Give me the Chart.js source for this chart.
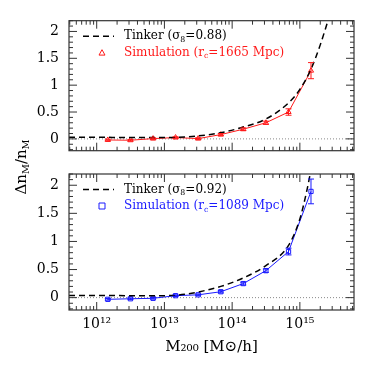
<!DOCTYPE html>
<html>
<head>
<meta charset="utf-8">
<script src="https://cdn.jsdelivr.net/npm/chart.js@4.4.1/dist/chart.umd.min.js"></script>
<style>
  html, body { margin: 0; padding: 0; background: #fff; }
  #wrap { position: relative; width: 374px; height: 374px; }
  canvas { position: absolute; left: 0; top: 0; }
</style>
</head>
<body>
<div id="wrap">
  <canvas id="top" width="374" height="374"></canvas>
  <canvas id="bottom" width="374" height="374"></canvas>
</div>
<script>
// halo mass bins (M_sun/h)
const massBins = [1.46e12, 3.15e12, 6.8e12, 1.46e13, 3.15e13, 6.8e13, 1.46e14, 3.15e14, 6.8e14, 1.46e15]

// top panel: simulation r_c = 1665 Mpc vs Tinker sigma8 = 0.88
const simTop = [-0.02, -0.025, 0.005, 0.025, 0.005, 0.08, 0.18, 0.3, 0.5, 1.27]
const errTop = [0.015, 0.015, 0.015, 0.015, 0.015, 0.02, 0.025, 0.03, 0.06, 0.15]
const tinkerTopM = [3.9e11, 1e12, 3e12, 1e13, 2e13, 3.15e13, 6.8e13, 1.46e14, 3.15e14, 6.8e14, 1e15, 1.46e15, 2e15, 2.6e15]
const tinkerTopV = [0.03, 0.03, 0.025, 0.025, 0.035, 0.055, 0.115, 0.22, 0.37, 0.67, 0.92, 1.3, 1.75, 2.2]

// bottom panel: simulation r_c = 1089 Mpc vs Tinker sigma8 = 0.92
const simBot = [-0.03, -0.02, -0.012, 0.035, 0.05, 0.105, 0.25, 0.48, 0.82, 1.89]
const errBot = [0.015, 0.015, 0.015, 0.015, 0.015, 0.02, 0.025, 0.03, 0.06, 0.22]
const tinkerBotM = [3.9e11, 1e12, 3e12, 1e13, 2e13, 3.15e13, 6.8e13, 1.46e14, 3.15e14, 6.8e14, 1e15, 1.26e15, 1.42e15]
const tinkerBotV = [0.04, 0.04, 0.035, 0.035, 0.06, 0.1, 0.2, 0.35, 0.57, 0.93, 1.4, 1.89, 2.2]

const xTicks = [1e12, 1e13, 1e14, 1e15]
const xTickLabels = ['10¹²', '10¹³', '10¹⁴', '10¹⁵']
const yTicks = [0, 0.5, 1, 1.5, 2]
const yTickLabels = ['0', '0.5', '1', '1.5', '2']

const X_MIN = 3.9e11, X_MAX = 6.3e15
const Y_MIN = -0.22, Y_MAX = 2.2
const FONT = "'DejaVu Serif', serif"
const RED = '#ff1a1a'
const BLUE = '#1a1aff'

// frame, inward ticks and zero line
const framePlugin = {
  id: 'frame',
  beforeDatasetsDraw(chart) {
    const { ctx, chartArea: a, scales } = chart
    const y0 = scales.y.getPixelForValue(0)
    ctx.save()
    ctx.strokeStyle = '#888'
    ctx.lineWidth = 1
    ctx.setLineDash([1, 2])
    ctx.beginPath()
    ctx.moveTo(a.left, y0)
    ctx.lineTo(a.right, y0)
    ctx.stroke()
    ctx.restore()
  },
  afterDraw(chart) {
    const { ctx, chartArea: a, scales } = chart
    ctx.save()
    ctx.strokeStyle = '#333'
    ctx.lineWidth = 1.2
    ctx.strokeRect(a.left, a.top, a.right - a.left, a.bottom - a.top)
    ctx.lineWidth = 1
    ctx.beginPath()
    for (let d = 11; d <= 15; d++) {
      for (let k = 1; k <= 9; k++) {
        const v = k * Math.pow(10, d)
        if (v < X_MIN || v > X_MAX) continue
        const px = scales.x.getPixelForValue(v)
        const len = k === 1 ? 8 : 4
        ctx.moveTo(px, a.bottom); ctx.lineTo(px, a.bottom - len)
        ctx.moveTo(px, a.top); ctx.lineTo(px, a.top + len)
      }
    }
    for (let i = -2; i <= 22; i++) {
      const py = scales.y.getPixelForValue(i / 10)
      const len = i % 5 === 0 ? 8 : 4
      ctx.moveTo(a.left, py); ctx.lineTo(a.left + len, py)
      ctx.moveTo(a.right, py); ctx.lineTo(a.right - len, py)
    }
    ctx.stroke()
    ctx.restore()
  },
}

// vertical error bars from dataset.errors
const errorPlugin = {
  id: 'errors',
  afterDatasetsDraw(chart) {
    const { ctx, scales } = chart
    chart.data.datasets.forEach((ds) => {
      if (!ds.errors) return
      ctx.save()
      ctx.strokeStyle = ds.borderColor
      ctx.lineWidth = 1
      ctx.beginPath()
      ds.data.forEach((p, i) => {
        const px = scales.x.getPixelForValue(p.x)
        const hi = scales.y.getPixelForValue(p.y + ds.errors[i])
        const lo = scales.y.getPixelForValue(p.y - ds.errors[i])
        ctx.moveTo(px, hi); ctx.lineTo(px, lo)
        ctx.moveTo(px - 3, hi); ctx.lineTo(px + 3, hi)
        ctx.moveTo(px - 3, lo); ctx.lineTo(px + 3, lo)
      })
      ctx.stroke()
      ctx.restore()
    })
  },
}

// draw a run of [text, isSub] parts, returns end x
function drawParts(ctx, parts, x, y, size) {
  parts.forEach(([t, sub]) => {
    ctx.font = (sub ? size * 0.65 : size) + 'px ' + FONT
    ctx.fillText(t, x, sub ? y + size * 0.3 : y)
    x += ctx.measureText(t).width
  })
  return x
}

const legendPlugin = {
  id: 'panelLegend',
  afterDraw(chart, args, opts) {
    const { ctx, chartArea: a } = chart
    const y1 = a.top + 15.5
    const y2 = a.top + 32
    ctx.save()
    ctx.strokeStyle = '#000'
    ctx.lineWidth = 1.5
    ctx.setLineDash([6, 4])
    ctx.beginPath()
    ctx.moveTo(a.left + 14, y1)
    ctx.lineTo(a.left + 45, y1)
    ctx.stroke()
    ctx.setLineDash([])
    ctx.textBaseline = 'middle'
    ctx.fillStyle = '#000'
    drawParts(ctx, [['Tinker (σ', false], ['8', true], ['=' + opts.sigma + ')', false]], a.left + 55, y1, 12)
    ctx.fillStyle = opts.color
    drawParts(ctx, [['Simulation (r', false], ['c', true], ['=' + opts.rc + ' Mpc)', false]], a.left + 55, y2, 12)
    ctx.strokeStyle = opts.color
    ctx.lineWidth = 1
    const mx = a.left + 33, r = 3
    ctx.beginPath()
    if (opts.marker === 'triangle') {
      ctx.moveTo(mx, y2 - r)
      ctx.lineTo(mx + r, y2 + r * 0.8)
      ctx.lineTo(mx - r, y2 + r * 0.8)
      ctx.closePath()
    } else {
      ctx.rect(mx - r, y2 - r, 2 * r, 2 * r)
    }
    ctx.stroke()
    if (opts.yTitle) {
      ctx.translate(22, 167)
      ctx.rotate(-Math.PI / 2)
      ctx.fillStyle = '#000'
      ctx.textBaseline = 'middle'
      const parts = [['Δn', false], ['M', true], ['/n', false], ['M', true]]
      let w = 0
      parts.forEach(([t, sub]) => {
        ctx.font = (sub ? 15 * 0.65 : 15) + 'px ' + FONT
        w += ctx.measureText(t).width
      })
      drawParts(ctx, parts, -w / 2, 0, 15)
    }
    ctx.restore()
  },
}

const pts = (xs, ys) => xs.map((x, i) => ({ x, y: ys[i] }))

function makeChart(id, sim, err, tM, tV, color, marker, legendOpts, showX) {
  return new Chart(document.getElementById(id), {
    type: 'line',
    data: {
      datasets: [
        {
          label: 'Tinker',
          data: pts(tM, tV),
          borderColor: '#000',
          borderWidth: 1.5,
          borderDash: [6, 4],
          pointRadius: 0,
          cubicInterpolationMode: 'monotone',
        },
        {
          label: 'Simulation',
          data: pts(massBins, sim),
          errors: err,
          borderColor: color,
          borderWidth: 1,
          pointStyle: marker,
          pointRadius: 3,
          pointBorderWidth: 1,
          pointBackgroundColor: 'rgba(0,0,0,0)',
          pointBorderColor: color,
          tension: 0,
        },
      ],
    },
    options: {
      responsive: false,
      animation: false,
      events: [],
      layout: {
        padding: showX
          ? { top: 174, right: 20, bottom: 0, left: 0 }
          : { top: 20.7, right: 20, bottom: 223.3, left: 0 },
      },
      plugins: {
        legend: { display: false },
        tooltip: { enabled: false },
        panelLegend: legendOpts,
      },
      scales: {
        x: {
          type: 'logarithmic',
          min: X_MIN,
          max: X_MAX,
          display: showX,
          grid: { display: false, drawTicks: false },
          border: { display: false },
          afterBuildTicks: (s) => { s.ticks = xTicks.map((v) => ({ value: v })) },
          afterFit: (s) => { s.height = showX ? 64 : 0 },
          ticks: {
            autoSkip: false,
            maxRotation: 0,
            padding: 6,
            color: '#000',
            font: { family: FONT, size: 14 },
            callback: (v, i) => xTickLabels[i],
          },
          title: {
            display: true,
            text: 'M₂₀₀ [M⊙/h]',
            color: '#000',
            font: { family: FONT, size: 15 },
            padding: { top: 0, bottom: 18 },
          },
        },
        y: {
          type: 'linear',
          min: Y_MIN,
          max: Y_MAX,
          grid: { display: false, drawTicks: false },
          border: { display: false },
          afterBuildTicks: (s) => { s.ticks = yTicks.map((v) => ({ value: v })) },
          afterFit: (s) => { s.width = 69 },
          ticks: {
            autoSkip: false,
            padding: 10,
            color: '#000',
            font: { family: FONT, size: 14 },
            callback: (v, i) => yTickLabels[i],
          },
        },
      },
    },
    plugins: [framePlugin, errorPlugin, legendPlugin],
  })
}

makeChart('top', simTop, errTop, tinkerTopM, tinkerTopV, RED, 'triangle',
  { sigma: '0.88', rc: '1665', color: RED, marker: 'triangle' }, false)
makeChart('bottom', simBot, errBot, tinkerBotM, tinkerBotV, BLUE, 'rect',
  { sigma: '0.92', rc: '1089', color: BLUE, marker: 'rect', yTitle: true }, true)
</script>
</body>
</html>
